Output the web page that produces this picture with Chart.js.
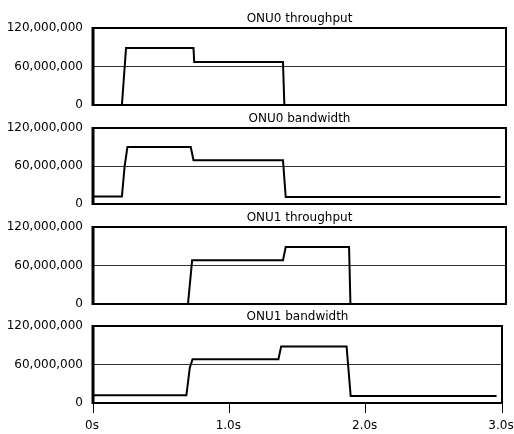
<!DOCTYPE html>
<html>
<head>
<meta charset="utf-8">
<script src="https://cdn.jsdelivr.net/npm/chart.js@4"></script>
<style>
  html, body { margin: 0; padding: 0; background: #fff; }
  #wrap { position: relative; width: 514px; height: 434px; background: #fff; }
  #wrap canvas { position: absolute; left: 0; top: 0; }
</style>
</head>
<body>
<div id="wrap">
  <canvas id="c0" width="514" height="434"></canvas>
  <canvas id="c1" width="514" height="434"></canvas>
  <canvas id="c2" width="514" height="434"></canvas>
  <canvas id="c3" width="514" height="434"></canvas>
</div>
<script>
// ---- data (time in seconds, value in bit/s) ----
const panelTitles = ["ONU0 throughput", "ONU0 bandwidth", "ONU1 throughput", "ONU1 bandwidth"];

const onu0ThroughputT = [0, 0.21, 0.24, 0.73, 0.735, 1.38, 1.39, 3.0];
const onu0ThroughputV = [0, 0, 89e6, 89e6, 67e6, 67e6, 0, 0];

const onu0BandwidthT = [0, 0.21, 0.23, 0.25, 0.71, 0.73, 1.38, 1.40, 2.96];
const onu0BandwidthV = [12e6, 12e6, 60e6, 90e6, 90e6, 69e6, 69e6, 11e6, 11e6];

const onu1ThroughputT = [0, 0.69, 0.72, 1.38, 1.40, 1.86, 1.87, 3.0];
const onu1ThroughputV = [0, 0, 68e6, 68e6, 89e6, 89e6, 0, 0];

const onu1BandwidthT = [0, 0.685, 0.71, 0.73, 1.36, 1.38, 1.86, 1.89, 2.96];
const onu1BandwidthV = [12e6, 12e6, 55e6, 68e6, 68e6, 88e6, 88e6, 11e6, 11e6];

const yTickValues = [0, 60000000, 120000000];
const xTickValues = [0, 1, 2, 3];

const seriesT = [onu0ThroughputT, onu0BandwidthT, onu1ThroughputT, onu1BandwidthT];
const seriesV = [onu0ThroughputV, onu0BandwidthV, onu1ThroughputV, onu1BandwidthV];

// ---- layout: chart area top / bottom (px) for each panel ----
const areaTop = [28, 128, 227, 326];
const areaBottom = [105, 204, 304, 403];
const rightPad = [8, 8, 8, 12];
const H = 434, W = 514;
const LEFT = 93;
const TITLE_BOX = 1 + 12 * 1.2 + 2;

const framePlugin = {
  id: 'frame',
  afterDraw(chart) {
    const a = chart.chartArea, ctx = chart.ctx;
    ctx.save();
    ctx.strokeStyle = '#000';
    ctx.lineWidth = 2;
    ctx.strokeRect(a.left, a.top, a.right - a.left, a.bottom - a.top);
    ctx.lineWidth = 3;
    ctx.beginPath();
    ctx.moveTo(a.left, a.top - 1);
    ctx.lineTo(a.left, a.bottom + 1);
    ctx.stroke();
    ctx.restore();
  }
};

const FONT = { family: "'DejaVu Sans', sans-serif", size: 12 };

for (let i = 0; i < 4; i++) {
  const last = i === 3;
  const T = seriesT[i], V = seriesV[i];
  new Chart(document.getElementById('c' + i), {
    type: 'line',
    data: {
      datasets: [{
        label: panelTitles[i],
        data: T.map((t, k) => ({ x: t, y: V[k] })),
        borderColor: '#000',
        borderWidth: 2,
        pointRadius: 0,
        tension: 0,
        fill: false
      }]
    },
    plugins: [framePlugin],
    options: {
      responsive: false,
      animation: false,
      layout: {
        autoPadding: false,
        padding: {
          left: 0,
          right: rightPad[i],
          top: areaTop[i] - TITLE_BOX,
          bottom: last ? 0 : H - areaBottom[i]
        }
      },
      plugins: {
        legend: { display: false },
        tooltip: { enabled: false },
        title: {
          display: true,
          text: panelTitles[i],
          fullSize: false,
          color: '#000',
          font: { family: FONT.family, size: 12, weight: 'normal', lineHeight: 1.2 },
          padding: { top: 1, bottom: 2 }
        }
      },
      scales: {
        x: {
          type: 'linear',
          min: 0,
          max: 3,
          display: last,
          afterFit(s) {
            s.height = last ? H - areaBottom[3] : 0;
            s.paddingLeft = 0; s.paddingRight = 0;
          },
          afterBuildTicks(s) { s.ticks = xTickValues.map(v => ({ value: v })); },
          ticks: {
            color: '#000',
            font: FONT,
            padding: 6,
            labelOffset: -1,
            maxRotation: 0,
            autoSkip: false,
            callback: v => v === 0 ? '0s' : v.toFixed(1) + 's'
          },
          grid: {
            display: true,
            drawOnChartArea: false,
            drawTicks: true,
            tickLength: 10,
            color: '#000',
            lineWidth: 1
          },
          border: { display: false }
        },
        y: {
          min: 0,
          max: 120000000,
          afterFit(s) {
            s.width = LEFT;
            s.paddingTop = 0; s.paddingBottom = 0;
          },
          afterBuildTicks(s) { s.ticks = yTickValues.map(v => ({ value: v })); },
          ticks: {
            color: '#000',
            font: FONT,
            padding: 10,
            callback: v => Number(v).toLocaleString('en-US')
          },
          grid: {
            drawTicks: false,
            color: '#333',
            lineWidth: 1
          },
          border: { display: false }
        }
      }
    }
  });
}
</script>
</body>
</html>
